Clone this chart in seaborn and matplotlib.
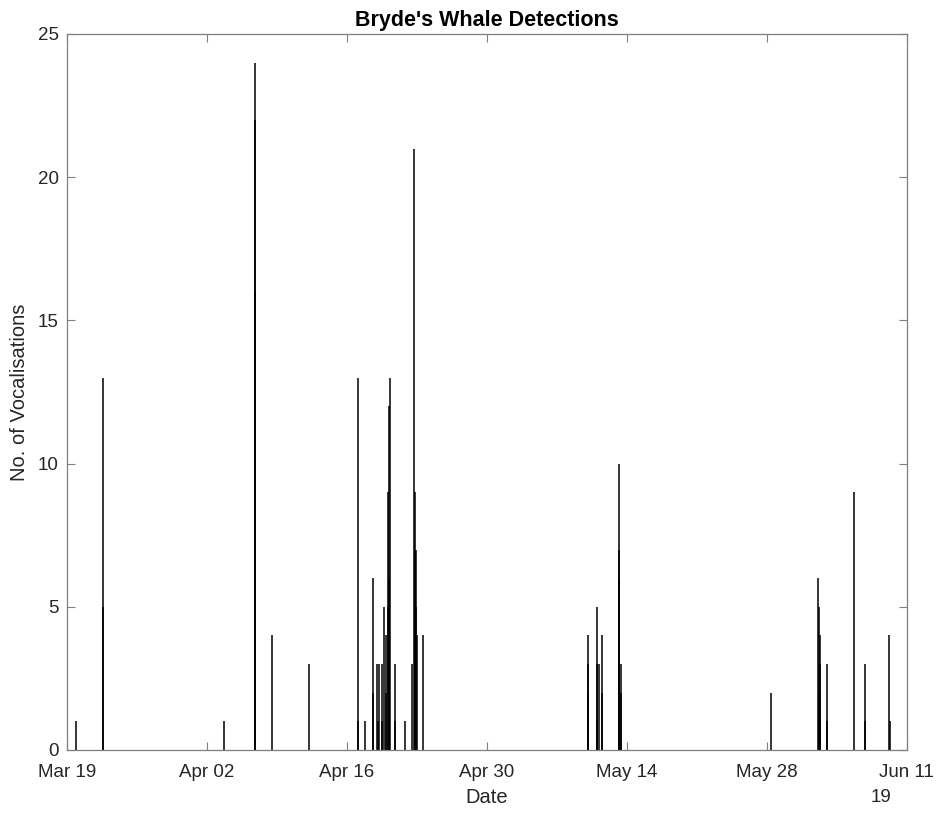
import matplotlib
matplotlib.use("Agg")
import matplotlib.pyplot as plt
import matplotlib.dates as mdates
import seaborn as sns
import pandas as pd

# ---- data ----
det_times = [
    "2019-03-19 22:20", "2019-03-22 13:30", "2019-03-22 13:30",
    "2019-04-03 16:00",
    "2019-04-06 18:20", "2019-04-06 18:30", "2019-04-06 18:40",
    "2019-04-08 12:45", "2019-04-12 05:30",
    "2019-04-17 03:05", "2019-04-17 03:30", "2019-04-17 19:10",
    "2019-04-18 14:25", "2019-04-18 14:45",
    "2019-04-19 01:25", "2019-04-19 01:45", "2019-04-19 06:15",
    "2019-04-19 11:30", "2019-04-19 11:50", "2019-04-19 16:50",
    "2019-04-19 21:35", "2019-04-19 21:55",
    "2019-04-20 02:25", "2019-04-20 02:45", "2019-04-20 05:30",
    "2019-04-20 05:50", "2019-04-20 07:25",
    "2019-04-20 19:10", "2019-04-20 19:30", "2019-04-21 19:10",
    "2019-04-22 12:45", "2019-04-22 16:50", "2019-04-22 19:55",
    "2019-04-22 20:15", "2019-04-22 22:20", "2019-04-22 22:40",
    "2019-04-23 01:25", "2019-04-23 15:05",
    "2019-05-10 02:25", "2019-05-10 02:45", "2019-05-10 03:05",
    "2019-05-11 00:00", "2019-05-11 00:20", "2019-05-11 00:40",
    "2019-05-11 04:50", "2019-05-11 12:45", "2019-05-11 13:05",
    "2019-05-13 05:30", "2019-05-13 05:50", "2019-05-13 06:10",
    "2019-05-13 10:50", "2019-05-13 11:10",
    "2019-05-28 09:35",
    "2019-06-02 04:05", "2019-06-02 04:25", "2019-06-02 04:45",
    "2019-06-02 07:55", "2019-06-02 08:15", "2019-06-02 08:35",
    "2019-06-03 00:00", "2019-06-03 00:20",
    "2019-06-05 18:30", "2019-06-06 19:55", "2019-06-06 20:15",
    "2019-06-09 06:30", "2019-06-09 06:50",
]
det_counts = [
    1, 13, 5,
    1,
    24, 22, 16,
    4, 3,
    13, 1, 1,
    6, 2,
    3, 1, 3,
    3, 1, 5,
    4, 2,
    9, 5, 12,
    6, 13,
    3, 1, 1,
    3, 21, 9,
    7, 7, 5,
    4, 4,
    4, 3, 2,
    5, 3, 1,
    3, 4, 2,
    10, 7, 6,
    3, 2,
    2,
    6, 5, 2,
    4, 3, 1,
    3, 1,
    9, 3, 1,
    4, 1,
]
tick_dates = ["2019-03-19", "2019-04-02", "2019-04-16", "2019-04-30",
              "2019-05-14", "2019-05-28", "2019-06-11"]
y_ticks = [0, 5, 10, 15, 20, 25]

title_text = "Bryde's Whale Detections"
x_label = "Date"
y_label = "No. of Vocalisations"
year_label = "19"

# ---- plotting ----
sns.set_theme(style="white")
plt.rcParams["font.family"] = ["Liberation Sans", "DejaVu Sans"]

df = pd.DataFrame({"time": pd.to_datetime(det_times), "count": det_counts})
df = df.sort_values("count", ascending=False)

fig = plt.figure(figsize=(9.40, 8.14), dpi=100)
ax = fig.add_axes([67 / 940, 1 - 750 / 814, (906.7 - 67) / 940, (750 - 34) / 814])

ax.vlines(df["time"], 0, df["count"], colors="black", linewidth=1.1)

axis_col = "#262626"
ax.set_xlim(pd.Timestamp(tick_dates[0]), pd.Timestamp(tick_dates[-1]))
ax.set_ylim(0, 25)
ax.set_xticks(pd.to_datetime(tick_dates))
ax.xaxis.set_major_formatter(mdates.DateFormatter("%b %d"))
ax.set_yticks(y_ticks)

for side in ["top", "right", "bottom", "left"]:
    ax.spines[side].set_visible(True)
    ax.spines[side].set_color("#7f7f7f")
    ax.spines[side].set_linewidth(0.9)

ax.tick_params(axis="both", direction="in", length=6, width=0.8,
               color="#7f7f7f", labelsize=13.5, labelcolor=axis_col,
               top=True, right=True, bottom=True, left=True)
ax.tick_params(axis="x", pad=10)
ax.tick_params(axis="y", pad=6)

ax.set_xlabel(x_label, fontsize=14.5, color=axis_col, labelpad=5)
ax.set_ylabel(y_label, fontsize=14.5, color=axis_col, labelpad=6)
ax.set_title(title_text, fontsize=15.5, fontweight="bold", color="black", pad=6)

fig.text(891 / 940, 1 - 798 / 814, year_label, ha="right", va="center",
         fontsize=13.5, color=axis_col)

fig.savefig("out.png", dpi=100, facecolor="white")
